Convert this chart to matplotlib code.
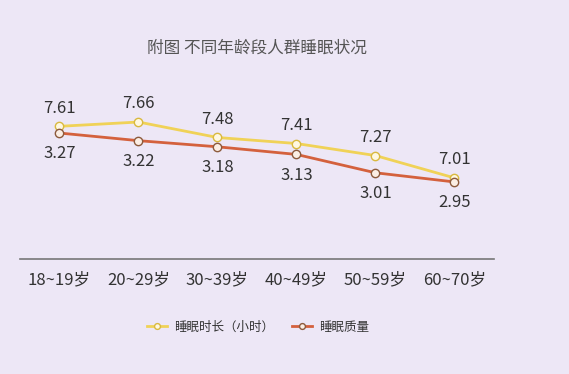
import matplotlib
matplotlib.use('Agg')
import matplotlib.pyplot as plt

plt.rcParams['font.family'] = ['Noto Sans CJK SC', 'DejaVu Sans']

age_groups = ['18~19岁', '20~29岁', '30~39岁', '40~49岁', '50~59岁', '60~70岁']
sleep_hours = [7.61, 7.66, 7.48, 7.41, 7.27, 7.01]
sleep_quality = [3.27, 3.22, 3.18, 3.13, 3.01, 2.95]

bg = '#ede7f6'
c_hours = '#f0d257'
c_quality = '#d4613d'
text_c = '#333333'

fig = plt.figure(figsize=(5.69, 3.74), dpi=100)
fig.patch.set_facecolor(bg)

ax = fig.add_axes([0.0351, 0.3075, 0.833, 0.4251])
ax2 = ax.twinx()
for a in (ax, ax2):
    a.set_facecolor('none')
    for s in a.spines.values():
        s.set_visible(False)
    a.tick_params(left=False, right=False, labelleft=False, labelright=False)

x = range(len(age_groups))
ax.plot(x, sleep_hours, color=c_hours, lw=2, marker='o', ms=6,
        mfc='#fff8e0', mec='#d9b93f', mew=1.0, label='睡眠时长（小时）', zorder=3)
ax2.plot(x, sleep_quality, color=c_quality, lw=2, marker='o', ms=6,
         mfc='#fbeee4', mec='#8c5a3c', mew=1.0, label='睡眠质量', zorder=3)

ax.set_ylim(6.067, 7.916)
ax2.set_ylim(2.446, 3.486)
ax.set_xlim(-0.5, 5.5)

for i, v in enumerate(sleep_hours):
    ax.annotate(f'{v:.2f}', (i, v), xytext=(0, 13), textcoords='offset points',
                ha='center', va='center', fontsize=12, color=text_c)
for i, v in enumerate(sleep_quality):
    ax2.annotate(f'{v:.2f}', (i, v), xytext=(0, -15), textcoords='offset points',
                 ha='center', va='center', fontsize=12, color=text_c)

ax.spines['bottom'].set_visible(True)
ax.spines['bottom'].set_color('#777777')
ax.spines['bottom'].set_linewidth(1.2)
ax.set_xticks(list(x))
ax.set_xticklabels(age_groups, fontsize=12, color=text_c)
ax.tick_params(axis='x', length=0, pad=9)

fig.text(257 / 569, 1 - 48 / 374, '附图 不同年龄段人群睡眠状况', ha='center', va='center',
         fontsize=12, color='#555555')

h1, l1 = ax.get_legend_handles_labels()
h2, l2 = ax2.get_legend_handles_labels()
fig.legend(h1 + h2, l1 + l2, loc='center', bbox_to_anchor=(258 / 569, 1 - 327 / 374),
           ncol=2, frameon=False, fontsize=9, markerscale=0.7, handlelength=1.6,
           handletextpad=0.5, columnspacing=1.5, labelcolor=text_c)

fig.savefig('out.png', dpi=100, facecolor=bg)
